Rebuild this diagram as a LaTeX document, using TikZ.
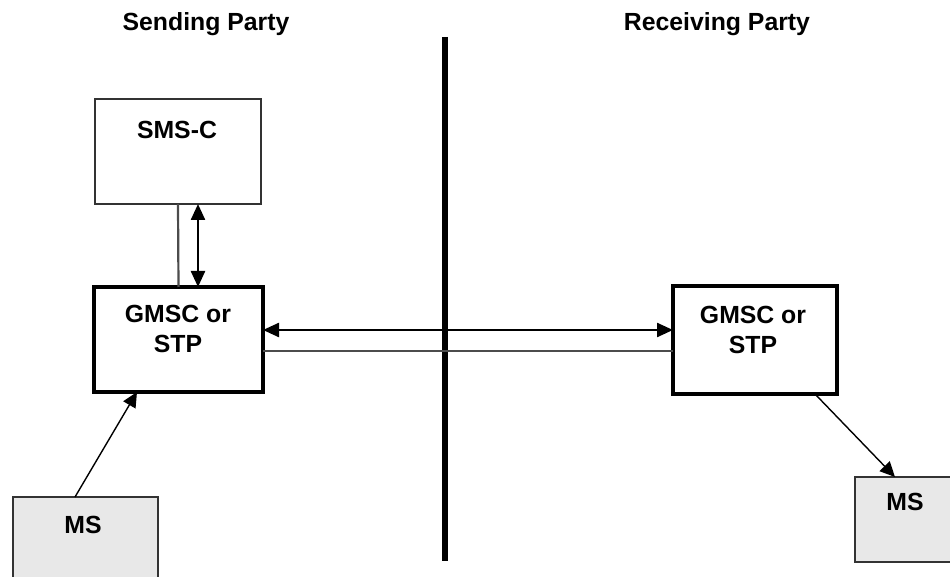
\documentclass[tikz,border=0pt]{standalone}
\usepackage{fontspec}
\setmainfont{Liberation Sans}
\usetikzlibrary{arrows.meta,calc}
\begin{document}
\begin{tikzpicture}[x=0.5pt,y=-0.5pt,
  txt/.style={font=\fontsize{12.4}{15}\selectfont\bfseries, inner sep=0pt, align=center},
  thinbox/.style={draw=black!80, line width=0.8pt, inner sep=0pt, outer sep=0pt},
  msbox/.style={thinbox, fill=black!9},
  gbox/.style={draw=black, line width=1.6pt, inner sep=0pt, outer sep=0pt},
  dbl/.style={draw=black, line width=1.2pt, {Triangle[length=8pt,width=7pt]}-{Triangle[length=8pt,width=7pt]}},
  sgl/.style={draw=black, line width=0.7pt, -{Triangle[length=7.5pt,width=7pt]}},
  grayline/.style={draw=black!70, line width=1.1pt},
  divider/.style={draw=black, line width=2.6pt}
]
\useasboundingbox (0,0) rectangle (950,577);
\clip (0,0) rectangle (950,577);

% titles
\node[txt, anchor=base] (tsend) at (206,31) {Sending Party};
\node[txt, anchor=base] (trecv) at (717,31) {Receiving Party};

% divider
\coordinate (dtop) at (445,37);
\coordinate (dbot) at (445,561);
\draw[divider] (dtop) -- (dbot);

% boxes
\node[thinbox, minimum width=83pt, minimum height=52.5pt] (sms) at (178,151.5) {};
\node[gbox, minimum width=84.5pt, minimum height=52.5pt] (gl) at (178.5,339.5) {};
\node[gbox, minimum width=82pt, minimum height=54pt] (gr) at (755,340) {};
\node[msbox, minimum width=72.5pt, minimum height=51.5pt] (msl) at (85.5,548.5) {};
\node[msbox, minimum width=57.5pt, minimum height=42.5pt] (msr) at (912.5,519.5) {};

% texts
\node[txt, anchor=base] (smst) at (177,139) {SMS-C};
\node[txt] (glt) at (178,329) {GMSC or\\STP};
\node[txt] (grt) at (753,330) {GMSC or\\STP};
\node[txt, anchor=base] (mslt) at (83,534) {MS};
\node[txt, anchor=base] (msrt) at (905,511) {MS};

% connectors
\draw[grayline] (sms.south) -- (gl.north);
\draw[dbl] ($(sms.south)+(20,0)$) -- ($(gl.north)+(19.5,0)$);
\draw[dbl] ($(gl.east)+(0,-9.5)$) -- ($(gr.west)+(0,-10)$);
\draw[grayline] ($(gl.east)+(0,11.5)$) -- ($(gr.west)+(0,11)$);
\draw[sgl] ($(msl.north)+(-10.5,0)$) -- ($(gl.south)+(-41.5,0)$);
\draw[sgl] ($(gr.south)+(60,0)$) -- ($(msr.north)+(-17.5,0)$);
\end{tikzpicture}
\end{document}
